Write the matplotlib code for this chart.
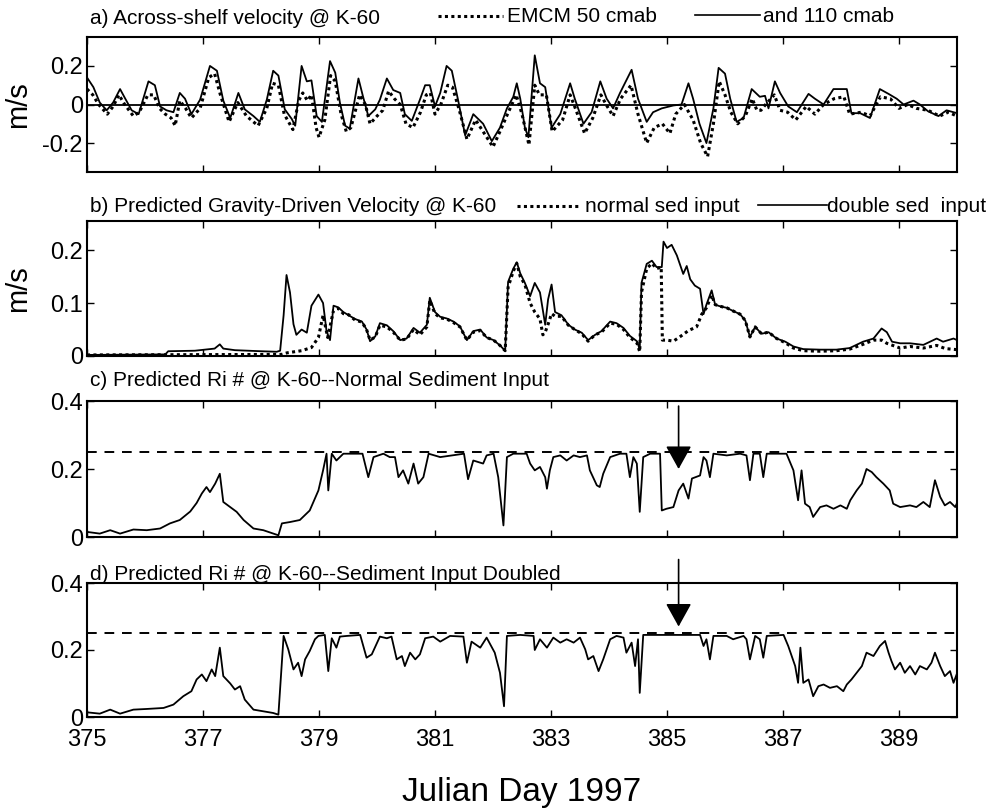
import matplotlib.pyplot as plt
from matplotlib.lines import Line2D

plt.rcParams['font.family'] = ['Liberation Sans', 'DejaVu Sans']

# --- a) across-shelf velocity at K-60 (m/s) ---
a_day_110 = [375.0, 375.11, 375.22, 375.34, 375.45, 375.57, 375.66, 375.77, 375.89, 376.06,
             376.17, 376.26, 376.37, 376.49, 376.60, 376.69, 376.80, 376.95, 377.12, 377.24,
             377.35, 377.47, 377.61, 377.72, 377.87, 377.98, 378.10, 378.21, 378.30, 378.41,
             378.53, 378.59, 378.70, 378.79, 378.87, 378.96, 379.05, 379.19, 379.28, 379.36,
             379.45, 379.53, 379.68, 379.76, 379.85, 379.97, 380.05, 380.17, 380.28, 380.40,
             380.48, 380.60, 380.74, 380.83, 380.91, 381.00, 381.09, 381.20, 381.29, 381.40,
             381.52, 381.66, 381.83, 381.98, 382.12, 382.24, 382.35, 382.41, 382.47, 382.55,
             382.61, 382.72, 382.81, 382.90, 383.01, 383.16, 383.33, 383.41, 383.56, 383.70,
             383.85, 383.96, 384.07, 384.19, 384.39, 384.50, 384.65, 384.76, 384.91, 385.11,
             385.25, 385.37, 385.45, 385.56, 385.68, 385.80, 385.89, 386.00, 386.09, 386.20,
             386.32, 386.46, 386.60, 386.69, 386.75, 386.86, 386.95, 387.09, 387.24, 387.44,
             387.55, 387.70, 387.87, 388.10, 388.18, 388.33, 388.50, 388.67, 388.82, 388.96,
             389.08, 389.25, 389.36, 389.50, 389.68, 389.82, 390.0]
a_vel_110 = [0.14, 0.09, 0.01, -0.03, 0.01, 0.08, 0.03, -0.03, -0.05, 0.12,
             0.10, -0.01, -0.03, -0.04, 0.06, 0.03, -0.05, 0.025, 0.20, 0.175,
             0.02, -0.07, 0.06, -0.025, -0.06, -0.09, 0.025, 0.175, 0.15, -0.025,
             -0.075, -0.11, 0.20, 0.12, 0.125, -0.06, -0.09, 0.225, 0.165, 0.01,
             -0.11, -0.125, 0.135, 0.04, -0.06, -0.025, 0.025, 0.135, 0.075, 0.06,
             -0.05, -0.085, 0.025, 0.10, 0.10, -0.01, 0.06, 0.20, 0.175, 0.02,
             -0.16, -0.05, -0.10, -0.19, -0.12, -0.02, 0.04, 0.11, 0.03, -0.12,
             -0.17, 0.255, 0.11, 0.09, -0.12, -0.05, 0.11, 0.03, -0.10, -0.04,
             0.12, 0.03, -0.02, 0.06, 0.18, 0.03, -0.09, -0.04, -0.02, -0.005,
             0.0, 0.11, 0.03, -0.10, -0.20, -0.02, 0.19, 0.16, 0.03, -0.09,
             -0.07, 0.08, 0.04, 0.045, -0.02, 0.12, 0.06, -0.01, -0.04, 0.055,
             0.03, 0.0, 0.08, 0.08, -0.045, -0.045, -0.07, 0.08, 0.055, 0.03,
             0.0, 0.02, 0.0, -0.035, -0.06, -0.03, -0.045]

a_day_50 = [375.0, 375.1, 375.2, 375.35, 375.45, 375.55, 375.65, 375.8, 375.9, 376.05,
            376.15, 376.25, 376.35, 376.45, 376.52, 376.6, 376.7, 376.8, 376.95, 377.1,
            377.2, 377.3, 377.45, 377.6, 377.75, 377.95, 378.1, 378.2, 378.3, 378.4,
            378.55, 378.65, 378.72, 378.8, 378.87, 378.95, 379.0, 379.1, 379.2, 379.28,
            379.38, 379.47, 379.55, 379.7, 379.8, 379.88, 380.0, 380.1, 380.2, 380.3,
            380.4, 380.5, 380.62, 380.75, 380.85, 380.92, 381.0, 381.1, 381.22, 381.3,
            381.42, 381.55, 381.7, 381.85, 382.0, 382.12, 382.25, 382.4, 382.5, 382.62,
            382.72, 382.8, 382.92, 383.02, 383.2, 383.33, 383.42, 383.58, 383.72, 383.86,
            383.95, 384.07, 384.2, 384.38, 384.5, 384.65, 384.78, 384.92, 385.05, 385.15,
            385.3, 385.45, 385.58, 385.7, 385.8, 385.9, 386.0, 386.1, 386.22, 386.35,
            386.47, 386.55, 386.62, 386.7, 386.85, 386.95, 387.08, 387.22, 387.4, 387.55,
            387.7, 387.88, 388.05, 388.15, 388.35, 388.5, 388.68, 388.85, 389.0, 389.15,
            389.3, 389.5, 389.7, 389.85, 390.0]
a_vel_50 = [0.08, 0.05, 0.0, -0.05, -0.01, 0.05, 0.0, -0.06, -0.04, 0.05,
            0.05, -0.02, -0.05, -0.07, -0.11, 0.02, -0.02, -0.07, -0.02, 0.14,
            0.16, 0.05, -0.09, 0.01, -0.06, -0.11, -0.02, 0.11, 0.10, -0.05,
            -0.13, 0.02, 0.06, 0.02, 0.05, -0.12, -0.17, -0.08, 0.15, 0.12,
            -0.05, -0.14, -0.12, 0.05, 0.0, -0.10, -0.06, -0.03, 0.07, 0.03,
            0.0, -0.10, -0.12, -0.04, 0.05, 0.06, -0.05, 0.0, 0.10, 0.09,
            -0.03, -0.18, -0.08, -0.15, -0.22, -0.14, -0.05, 0.05, -0.05, -0.21,
            0.10, 0.05, 0.05, -0.14, -0.08, 0.05, -0.02, -0.15, -0.07, 0.05,
            0.0, -0.06, 0.03, 0.10, -0.05, -0.20, -0.12, -0.10, -0.15, -0.05,
            0.0, -0.08, -0.20, -0.27, -0.10, 0.12, 0.05, -0.04, -0.10, -0.06,
            0.03, -0.03, -0.03, 0.0, 0.05, -0.03, -0.04, -0.08, -0.01, -0.05,
            0.0, 0.03, 0.04, -0.05, -0.04, -0.06, 0.04, 0.03, -0.02, 0.0,
            -0.02, -0.03, -0.06, -0.04, -0.06]

# --- b) predicted gravity-driven velocity (m/s) ---
b_day_norm = [375.0, 378.35, 378.45, 378.7, 378.87, 378.99, 379.07, 379.15, 379.25, 379.33,
              379.42, 379.51, 379.62, 379.74, 379.82, 379.88, 379.97, 380.05, 380.17, 380.28,
              380.40, 380.51, 380.63, 380.74, 380.86, 380.91, 381.0, 381.09, 381.2, 381.32,
              381.43, 381.55, 381.66, 381.78, 381.89, 382.01, 382.12, 382.21, 382.26, 382.35,
              382.41, 382.47, 382.55, 382.64, 382.72, 382.81, 382.86, 382.90, 382.95, 383.01,
              383.07, 383.18, 383.30, 383.41, 383.53, 383.64, 383.76, 383.87, 384.02, 384.13,
              384.25, 384.36, 384.48, 384.53, 384.56, 384.65, 384.74, 384.82, 384.90, 384.92,
              385.0, 385.11, 385.22, 385.37, 385.51, 385.60, 385.68, 385.77, 385.83, 385.91,
              386.03, 386.14, 386.26, 386.35, 386.43, 386.52, 386.63, 386.75, 386.89, 387.04,
              387.18, 387.35, 387.64, 387.92, 388.15, 388.38, 388.56, 388.70, 388.79, 389.02,
              389.19, 389.42, 389.65, 389.80, 390.0]
b_vel_norm = [0.002, 0.003, 0.006, 0.01, 0.016, 0.035, 0.077, 0.035, 0.086, 0.09,
              0.08, 0.078, 0.068, 0.064, 0.05, 0.03, 0.036, 0.058, 0.055, 0.045,
              0.03, 0.032, 0.05, 0.04, 0.055, 0.105, 0.08, 0.072, 0.07, 0.063,
              0.055, 0.03, 0.045, 0.048, 0.035, 0.03, 0.02, 0.01, 0.13, 0.16,
              0.175, 0.15, 0.135, 0.10, 0.083, 0.07, 0.04, 0.045, 0.06, 0.08,
              0.075, 0.075, 0.058, 0.05, 0.042, 0.028, 0.04, 0.045, 0.062, 0.06,
              0.05, 0.035, 0.025, 0.008, 0.12, 0.165, 0.175, 0.165, 0.168, 0.03,
              0.03, 0.028, 0.036, 0.048, 0.055, 0.079, 0.091, 0.115, 0.097, 0.094,
              0.091, 0.085, 0.079, 0.067, 0.036, 0.055, 0.042, 0.045, 0.033, 0.025,
              0.015, 0.01, 0.009, 0.01, 0.013, 0.022, 0.03, 0.03, 0.024, 0.015,
              0.018, 0.015, 0.02, 0.014, 0.012]

b_day_dbl = [375.0, 376.35, 376.40, 376.86, 377.2, 377.29, 377.35, 377.55, 378.0, 378.27,
             378.33, 378.39, 378.44, 378.50, 378.56, 378.61, 378.70, 378.79, 378.87, 378.99,
             379.07, 379.13, 379.19, 379.25, 379.33, 379.42, 379.51, 379.62, 379.74, 379.82,
             379.88, 379.97, 380.05, 380.17, 380.28, 380.40, 380.51, 380.63, 380.74, 380.86,
             380.91, 381.0, 381.09, 381.2, 381.32, 381.43, 381.55, 381.66, 381.78, 381.89,
             382.01, 382.12, 382.21, 382.26, 382.35, 382.41, 382.47, 382.55, 382.64, 382.72,
             382.81, 382.90, 382.95, 383.01, 383.07, 383.18, 383.30, 383.41, 383.53, 383.64,
             383.76, 383.87, 384.02, 384.13, 384.25, 384.36, 384.48, 384.53, 384.56, 384.65,
             384.74, 384.82, 384.91, 384.94, 385.0, 385.08, 385.17, 385.28, 385.34, 385.40,
             385.48, 385.57, 385.63, 385.68, 385.77, 385.83, 385.91, 386.03, 386.14, 386.26,
             386.35, 386.43, 386.52, 386.63, 386.75, 386.89, 387.04, 387.18, 387.35, 387.64,
             387.92, 388.15, 388.38, 388.56, 388.70, 388.79, 388.88, 389.02, 389.19, 389.42,
             389.65, 389.76, 389.94, 390.0]
b_vel_dbl = [0.002, 0.003, 0.009, 0.01, 0.014, 0.022, 0.014, 0.011, 0.009, 0.008,
             0.01, 0.077, 0.153, 0.12, 0.06, 0.04, 0.05, 0.044, 0.095, 0.116,
             0.10, 0.047, 0.03, 0.095, 0.092, 0.083, 0.077, 0.07, 0.065, 0.05,
             0.028, 0.037, 0.062, 0.058, 0.047, 0.03, 0.033, 0.053, 0.044, 0.059,
             0.11, 0.083, 0.074, 0.071, 0.065, 0.056, 0.03, 0.047, 0.05, 0.035,
             0.03, 0.02, 0.01, 0.14, 0.165, 0.177, 0.156, 0.138, 0.113, 0.138,
             0.12, 0.059, 0.107, 0.135, 0.083, 0.077, 0.059, 0.05, 0.044, 0.03,
             0.04, 0.047, 0.065, 0.062, 0.053, 0.038, 0.028, 0.013, 0.138, 0.174,
             0.18, 0.168, 0.168, 0.216, 0.204, 0.21, 0.19, 0.155, 0.17, 0.145,
             0.133, 0.127, 0.079, 0.097, 0.124, 0.097, 0.094, 0.091, 0.085, 0.079,
             0.067, 0.036, 0.055, 0.042, 0.045, 0.033, 0.027, 0.018, 0.013, 0.012,
             0.012, 0.015, 0.027, 0.033, 0.052, 0.045, 0.027, 0.024, 0.024, 0.021,
             0.033, 0.027, 0.033, 0.03]

# --- c) Richardson number, normal sediment input ---
c_day = [375.0, 375.22, 375.40, 375.57, 375.80, 376.03, 376.26, 376.43, 376.60, 376.78,
         376.89, 376.98, 377.06, 377.12, 377.21, 377.29, 377.35, 377.47, 377.58, 377.70,
         377.87, 378.04, 378.21, 378.30, 378.36, 378.50, 378.67, 378.84, 378.99, 379.07,
         379.13, 379.16, 379.22, 379.30, 379.42, 379.75, 379.85, 379.94, 380.11, 380.22,
         380.31, 380.37, 380.45, 380.54, 380.63, 380.71, 380.80, 380.89, 381.09, 381.50,
         381.57, 381.66, 381.83, 381.89, 382.01, 382.09, 382.18, 382.24, 382.35, 382.58,
         382.64, 382.72, 382.81, 382.90, 382.93, 382.98, 383.04, 383.16, 383.27, 383.39,
         383.50, 383.62, 383.67, 383.79, 383.84, 383.90, 384.02, 384.19, 384.30, 384.36,
         384.42, 384.48, 384.53, 384.59, 384.71, 384.88, 384.91, 384.99, 385.11, 385.20,
         385.28, 385.37, 385.43, 385.57, 385.63, 385.68, 385.74, 385.80, 386.03, 386.26,
         386.37, 386.43, 386.49, 386.60, 386.66, 386.72, 387.06, 387.18, 387.26, 387.32,
         387.38, 387.46, 387.52, 387.64, 387.75, 387.87, 387.99, 388.10, 388.16, 388.27,
         388.36, 388.44, 388.53, 388.61, 388.73, 388.84, 388.90, 389.02, 389.19, 389.30,
         389.42, 389.53, 389.62, 389.71, 389.79, 389.88, 389.97, 390.0]
c_ri = [0.015, 0.01, 0.02, 0.01, 0.022, 0.02, 0.025, 0.04, 0.05, 0.075,
        0.10, 0.128, 0.147, 0.132, 0.157, 0.186, 0.103, 0.088, 0.074, 0.05,
        0.025, 0.02, 0.01, 0.005, 0.04, 0.044, 0.05, 0.078, 0.137, 0.196,
        0.245, 0.137, 0.245, 0.225, 0.245, 0.245, 0.176, 0.235, 0.245, 0.235,
        0.235, 0.176, 0.196, 0.157, 0.216, 0.157, 0.176, 0.245, 0.235, 0.245,
        0.17, 0.225, 0.216, 0.24, 0.245, 0.176, 0.034, 0.235, 0.245, 0.245,
        0.216, 0.196, 0.206, 0.176, 0.142, 0.196, 0.235, 0.24, 0.225, 0.24,
        0.235, 0.24, 0.196, 0.152, 0.147, 0.186, 0.235, 0.245, 0.245, 0.176,
        0.235, 0.216, 0.074, 0.235, 0.245, 0.245, 0.078, 0.083, 0.088, 0.137,
        0.157, 0.113, 0.172, 0.181, 0.235, 0.225, 0.176, 0.245, 0.24, 0.245,
        0.24, 0.167, 0.245, 0.245, 0.176, 0.245, 0.245, 0.196, 0.108, 0.196,
        0.098, 0.088, 0.059, 0.088, 0.093, 0.083, 0.093, 0.083, 0.108, 0.137,
        0.157, 0.20, 0.191, 0.176, 0.157, 0.137, 0.098, 0.088, 0.093, 0.088,
        0.103, 0.088, 0.167, 0.118, 0.093, 0.103, 0.088, 0.10]

# --- d) Richardson number, sediment input doubled ---
d_day = [375.0, 375.22, 375.40, 375.57, 375.80, 376.03, 376.32, 376.49, 376.66, 376.80,
         376.89, 376.98, 377.06, 377.15, 377.21, 377.29, 377.35, 377.47, 377.55, 377.64,
         377.72, 377.87, 378.04, 378.21, 378.30, 378.39, 378.47, 378.56, 378.64, 378.70,
         378.76, 378.84, 378.93, 378.99, 379.10, 379.16, 379.22, 379.30, 379.36, 379.48,
         379.71, 379.82, 379.91, 380.05, 380.17, 380.25, 380.34, 380.43, 380.48, 380.57,
         380.66, 380.74, 380.83, 380.97, 381.09, 381.26, 381.49, 381.55, 381.63, 381.78,
         381.89, 382.03, 382.12, 382.19, 382.24, 382.47, 382.70, 382.72, 382.81, 382.93,
         383.04, 383.16, 383.27, 383.39, 383.50, 383.59, 383.64, 383.73, 383.82, 383.90,
         384.02, 384.13, 384.25, 384.30, 384.39, 384.45, 384.50, 384.53, 384.59, 385.57,
         385.63, 385.68, 385.74, 385.80, 386.03, 386.14, 386.32, 386.37, 386.43, 386.52,
         386.60, 386.66, 386.72, 387.01, 387.09, 387.21, 387.26, 387.30, 387.35, 387.44,
         387.52, 387.61, 387.70, 387.81, 387.93, 388.04, 388.10, 388.18, 388.27, 388.36,
         388.44, 388.56, 388.67, 388.76, 388.82, 388.87, 388.93, 389.02, 389.10, 389.19,
         389.28, 389.36, 389.48, 389.56, 389.62, 389.71, 389.79, 389.88, 389.94, 390.0]
d_ri = [0.014, 0.01, 0.022, 0.01, 0.022, 0.024, 0.027, 0.037, 0.062, 0.077,
        0.112, 0.127, 0.107, 0.142, 0.122, 0.207, 0.122, 0.10, 0.082, 0.092,
        0.052, 0.022, 0.017, 0.012, 0.007, 0.242, 0.202, 0.142, 0.162, 0.122,
        0.172, 0.197, 0.232, 0.242, 0.245, 0.137, 0.235, 0.207, 0.24, 0.242,
        0.245, 0.177, 0.187, 0.24, 0.235, 0.24, 0.172, 0.182, 0.152, 0.192,
        0.172, 0.187, 0.235, 0.24, 0.225, 0.242, 0.24, 0.162, 0.225, 0.207,
        0.237, 0.192, 0.132, 0.032, 0.242, 0.245, 0.242, 0.20, 0.232, 0.207,
        0.237, 0.222, 0.232, 0.222, 0.237, 0.202, 0.172, 0.182, 0.137, 0.172,
        0.232, 0.242, 0.237, 0.192, 0.222, 0.152, 0.232, 0.072, 0.245, 0.245,
        0.212, 0.232, 0.172, 0.242, 0.242, 0.232, 0.242, 0.232, 0.172, 0.242,
        0.232, 0.177, 0.242, 0.245, 0.212, 0.152, 0.102, 0.207, 0.102, 0.112,
        0.062, 0.092, 0.097, 0.087, 0.092, 0.077, 0.097, 0.112, 0.132, 0.152,
        0.192, 0.182, 0.212, 0.227, 0.192, 0.167, 0.142, 0.162, 0.132, 0.152,
        0.127, 0.152, 0.142, 0.162, 0.192, 0.152, 0.122, 0.137, 0.102, 0.13]

ri_crit = 0.25
arrow_day = 385.2
x_ticks = [375, 377, 379, 381, 383, 385, 387, 389]

W, H = 996, 809
fig = plt.figure(figsize=(W / 100, H / 100), dpi=100)


def box(l, t, r, b):
    return [l / W, 1 - b / H, (r - l) / W, (b - t) / H]


ax_a = fig.add_axes(box(87, 37, 957, 172))
ax_b = fig.add_axes(box(87, 221, 957, 356))
ax_c = fig.add_axes(box(87, 401, 957, 537))
ax_d = fig.add_axes(box(87, 583, 957, 717))

dots = (0, (1, 1.1))
lw = 1.3

ax_a.plot(a_day_50, a_vel_50, color='k', lw=2.2, ls=dots)
ax_a.plot(a_day_110, a_vel_110, color='k', lw=lw)
ax_a.axhline(0, color='k', lw=1.3)
ax_a.set_ylim(-0.35, 0.35)
ax_a.set_yticks([-0.2, 0, 0.2])
ax_a.set_yticklabels(['-0.2', '0', '0.2'])

ax_b.plot(b_day_norm, b_vel_norm, color='k', lw=2.2, ls=dots)
ax_b.plot(b_day_dbl, b_vel_dbl, color='k', lw=lw)
ax_b.set_ylim(0, 0.255)
ax_b.set_yticks([0, 0.1, 0.2])
ax_b.set_yticklabels(['0', '0.1', '0.2'])

for ax, day, ri in [(ax_c, c_day, c_ri), (ax_d, d_day, d_ri)]:
    ax.plot(day, ri, color='k', lw=lw)
    ax.axhline(ri_crit, color='k', lw=1.4, ls=(0, (5, 4)))
    ax.set_ylim(0, 0.4)
    ax.set_yticks([0, 0.2, 0.4])
    ax.set_yticklabels(['0', '0.2', '0.4'])

arrow = dict(arrowstyle='-|>,head_length=0.9,head_width=0.5', mutation_scale=16,
             color='k', lw=1.2, shrinkA=0, shrinkB=0)
ax_c.annotate('', xy=(arrow_day, 0.2), xytext=(arrow_day, 0.385), arrowprops=arrow)
ax_d.annotate('', xy=(arrow_day, 0.27), xytext=(arrow_day, 0.47), arrowprops=arrow,
              annotation_clip=False)

for ax in [ax_a, ax_b, ax_c, ax_d]:
    ax.set_xlim(375, 390)
    ax.set_xticks(x_ticks)
    ax.tick_params(direction='in', top=True, right=True, length=5, width=1,
                   labelsize=17, pad=3)
    for s in ax.spines.values():
        s.set_linewidth(1.5)
for ax in [ax_a, ax_b, ax_c]:
    ax.set_xticklabels([])
ax_d.tick_params(axis='x', pad=9)

for ax in [ax_a, ax_b]:
    ax.set_ylabel('m/s', fontsize=21)
    ax.yaxis.set_label_coords(-0.063, 0.5)

ax_d.set_xlabel('Julian Day 1997', fontsize=24, labelpad=18)

# panel titles and inline legends
def label(x, y, s, size=15):
    fig.text(x / W, 1 - y / H, s, ha='left', va='center', fontsize=size)


def key(x0, x1, y, style):
    if style == 'dot':
        ln = Line2D([x0 / W, x1 / W], [1 - y / H] * 2, color='k', lw=2.2, ls=dots)
    else:
        ln = Line2D([x0 / W, x1 / W], [1 - y / H] * 2, color='k', lw=1.2)
    fig.add_artist(ln)


label(90, 18, 'a) Across-shelf velocity @ K-60')
key(438, 503, 16, 'dot')
label(507, 17, 'EMCM 50 cmab')
key(695, 760, 15, 'line')
label(763, 17, 'and 110 cmab')

label(90, 206, 'b) Predicted Gravity-Driven Velocity @ K-60')
key(517, 578, 206, 'dot')
label(585, 206, 'normal sed input')
key(758, 827, 205, 'line')
label(827, 206, 'double sed  input')

label(90, 381, 'c) Predicted Ri # @ K-60--Normal Sediment Input')
label(90, 574, 'd) Predicted Ri # @ K-60--Sediment Input Doubled')

fig.savefig('out.png', dpi=100)
